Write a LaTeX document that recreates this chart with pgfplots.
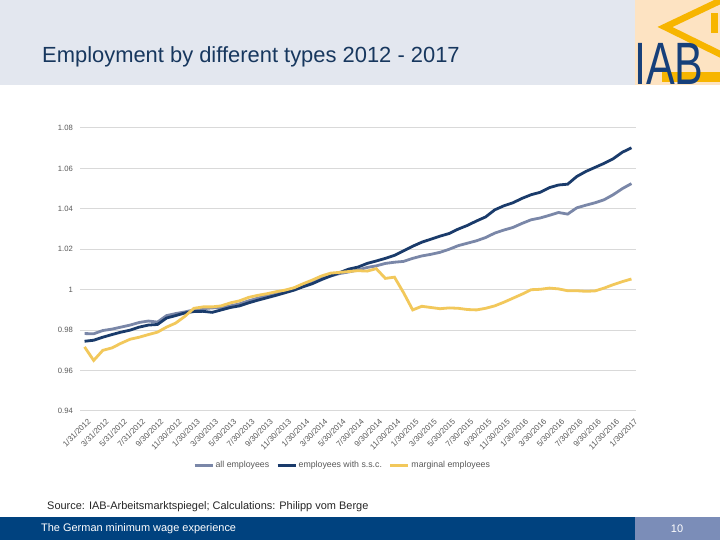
\documentclass[border=0pt]{standalone}
\usepackage{fontspec}
\setmainfont{Liberation Sans}
\usepackage{pgfplots}
\pgfplotsset{compat=1.18}
\usepackage{pgfplotstable}
\definecolor{band}{HTML}{E3E7EF}
\definecolor{titleblue}{HTML}{17375E}
\definecolor{peach}{HTML}{FDE3C2}
\definecolor{logoyellow}{HTML}{F7B500}
\definecolor{logoblue}{HTML}{17407A}
\definecolor{barblue}{HTML}{00427F}
\definecolor{boxblue}{HTML}{7B8DB8}
\definecolor{sall}{HTML}{7A87A8}
\definecolor{sssc}{HTML}{1A3B6B}
\definecolor{smarg}{HTML}{F2C85B}
\definecolor{gridgray}{HTML}{D9D9D9}
\definecolor{labelgray}{HTML}{595959}

\pgfplotstableread{
i all ssc marg
0 0.9783 0.9745 0.9717
1 0.9782 0.9750 0.9650
2 0.9798 0.9765 0.9700
3 0.9805 0.9778 0.9712
4 0.9815 0.9790 0.9735
5 0.9825 0.9800 0.9755
6 0.9838 0.9815 0.9765
7 0.9845 0.9825 0.9778
8 0.9840 0.9828 0.9790
9 0.9872 0.9860 0.9815
10 0.9882 0.9872 0.9835
11 0.9890 0.9885 0.9868
12 0.9900 0.9892 0.9908
13 0.9906 0.9893 0.9915
14 0.9910 0.9888 0.9915
15 0.9912 0.9900 0.9920
16 0.9920 0.9912 0.9935
17 0.9930 0.9920 0.9945
18 0.9945 0.9935 0.9962
19 0.9958 0.9948 0.9972
20 0.9970 0.9960 0.9980
21 0.9980 0.9972 0.9990
22 0.9992 0.9985 0.9998
23 1.0005 0.9998 1.0010
24 1.0020 1.0015 1.0030
25 1.0035 1.0030 1.0048
26 1.0055 1.0050 1.0068
27 1.0068 1.0068 1.0082
28 1.0080 1.0085 1.0086
29 1.0088 1.0102 1.0090
30 1.0098 1.0112 1.0094
31 1.0110 1.0130 1.0092
32 1.0118 1.0142 1.0104
33 1.0130 1.0155 1.0056
34 1.0136 1.0170 1.0062
35 1.0140 1.0192 0.9985
36 1.0155 1.0215 0.9900
37 1.0167 1.0235 0.9918
38 1.0175 1.0250 0.9912
39 1.0185 1.0265 0.9906
40 1.0200 1.0278 0.9910
41 1.0218 1.0300 0.9908
42 1.0230 1.0318 0.9902
43 1.0242 1.0340 0.9900
44 1.0258 1.0360 0.9908
45 1.0280 1.0395 0.9920
46 1.0295 1.0415 0.9938
47 1.0308 1.0430 0.9958
48 1.0328 1.0452 0.9978
49 1.0346 1.0470 1.0000
50 1.0355 1.0482 1.0002
51 1.0368 1.0505 1.0008
52 1.0382 1.0518 1.0004
53 1.0374 1.0522 0.9995
54 1.0405 1.0560 0.9995
55 1.0418 1.0585 0.9992
56 1.0430 1.0605 0.9994
57 1.0445 1.0625 1.0008
58 1.0470 1.0648 1.0025
59 1.0500 1.0680 1.0040
60 1.0525 1.0702 1.0053
}\datatable

\begin{document}
\begin{tikzpicture}[x=1bp,y=1bp]
\useasboundingbox (0,0) rectangle (720,540);
\fill[white] (0,0) rectangle (720,540);
% header band
\fill[band] (0,455) rectangle (720,540);
\fill[peach] (635,455) rectangle (720,540);
\begin{scope}
\clip (635,455) rectangle (720,540);
\draw[logoyellow, line width=6.5bp, line join=miter] (726,542) -- (665,513) -- (726,483);
\fill[logoyellow] (711,507) rectangle (718,527);
\fill[logoyellow] (662,458) rectangle (720,468);
\end{scope}
\node[anchor=south west, inner sep=0, text=logoblue, font=\fontsize{60}{60}\selectfont] at (634,455) {\scalebox{0.72}[1]{IAB}};
\node[anchor=west, inner sep=0, text=titleblue, font=\fontsize{22}{26}\selectfont] at (42,483) {Employment by different types 2012 - 2017};
% footer
\node[anchor=west, inner sep=0, text=black!85, font=\fontsize{11}{13}\selectfont] at (47,33) {Source: IAB-Arbeitsmarktspiegel; Calculations: Philipp vom Berge};
\fill[barblue] (0,0) rectangle (635,23);
\fill[boxblue] (635,0) rectangle (720,23);
\node[anchor=west, inner sep=0, text=white, font=\fontsize{11}{13}\selectfont] at (41,11) {The German minimum wage experience};
\node[inner sep=0, text=white, font=\fontsize{11}{13}\selectfont] at (677,11) {10};

\begin{axis}[
  at={(80bp,129bp)}, anchor=south west,
  scale only axis, width=556bp, height=283bp,
  xmin=-0.5, xmax=60.5, ymin=0.94, ymax=1.08,
  axis line style={draw=none},
  major tick length=0pt,
  ytick={0.94,0.96,0.98,1,1.02,1.04,1.06,1.08},
  yticklabels={0.94,0.96,0.98,1,1.02,1.04,1.06,1.08},
  ymajorgrids, grid style={color=gridgray, line width=1bp},
  xtick={0,2,...,60},
  xticklabels={1/31/2012,3/31/2012,5/31/2012,7/31/2012,9/30/2012,11/30/2012,1/30/2013,3/30/2013,5/30/2013,7/30/2013,9/30/2013,11/30/2013,1/30/2014,3/30/2014,5/30/2014,7/30/2014,9/30/2014,11/30/2014,1/30/2015,3/30/2015,5/30/2015,7/30/2015,9/30/2015,11/30/2015,1/30/2016,3/30/2016,5/30/2016,7/30/2016,9/30/2016,11/30/2016,1/30/2017},
  xticklabel style={xshift=2.5bp, yshift=-7bp, rotate=45, anchor=north east, inner sep=0pt, font=\fontsize{8}{9}\selectfont, text=labelgray},
  yticklabel style={anchor=east, inner sep=0pt, xshift=-7bp, font=\fontsize{7.7}{9}\selectfont, text=labelgray},
  legend columns=-1,
  legend style={at={(0.203,-0.191)}, anchor=west, draw=none, fill=none, inner sep=0pt,
    nodes={inner sep=1.5bp},
    font=\fontsize{8.8}{10}\selectfont, text=labelgray,
    /tikz/every even column/.append style={column sep=5.5bp}},
  legend cell align=left,
  legend image code/.code={\draw[#1, line width=3bp] (0bp,0bp) -- (18bp,0bp);},
]
\addplot[sall, line width=2.8bp, no markers] table[x=i, y=all] {\datatable};
\addlegendentry{all employees}
\addplot[sssc, line width=2.8bp, no markers] table[x=i, y=ssc] {\datatable};
\addlegendentry{employees with s.s.c.}
\addplot[smarg, line width=2.8bp, no markers] table[x=i, y=marg] {\datatable};
\addlegendentry{marginal employees}
\end{axis}
\end{tikzpicture}
\end{document}
